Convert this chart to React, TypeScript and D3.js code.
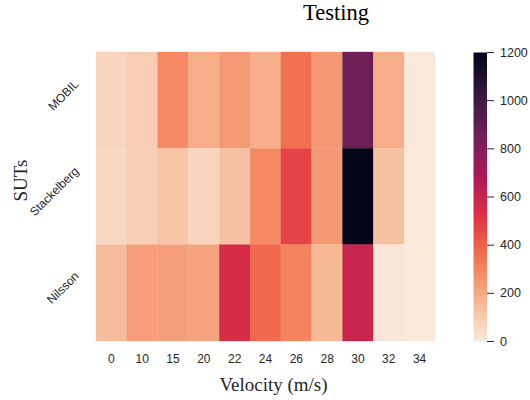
import React, { useEffect, useRef } from "react";
import * as d3 from "d3";

// Velocity bins (columns) and systems under test (rows)
const velocities = ["0", "10", "15", "20", "22", "24", "26", "28", "30", "32", "34"];
const suts = ["MOBIL", "Stackelberg", "Nilsson"];

// Cell values per SUT, one entry per velocity bin
const mobilValues = [70, 93, 290, 188, 243, 185, 358, 252, 865, 188, 5];
const stackelbergValues = [59, 87, 121, 70, 133, 290, 473, 245, 1200, 135, 5];
const nilssonValues = [146, 232, 230, 218, 550, 376, 304, 155, 593, 15, 8];

const colorbarTicks = [0, 200, 400, 600, 800, 1000, 1200];

// "rocket" colour map stops (dark to light); reversed for the value scale
const rocketStops = ["#03051a", "#35193e", "#701f57", "#ad1759", "#e13342", "#f37651", "#f6b48f", "#faebdd"];

const W = 530;
const H = 400;

export default function App() {
  const ref = useRef<SVGSVGElement | null>(null);

  useEffect(() => {
    const svg = d3.select(ref.current);
    svg.selectAll("*").remove();

    const rows = [mobilValues, stackelbergValues, nilssonValues];
    const plot = { left: 96, right: 435, top: 52, bottom: 341 };

    const x = d3.scaleBand<string>().domain(velocities).range([plot.left, plot.right]).padding(0);
    const y = d3.scaleBand<string>().domain(suts).range([plot.top, plot.bottom]).padding(0);

    const vmax = 1200;
    const stopsR = rocketStops.slice().reverse();
    const color = d3
      .scaleLinear<string>()
      .domain(stopsR.map((_, i) => (i / (stopsR.length - 1)) * vmax))
      .range(stopsR)
      .interpolate(d3.interpolateRgb)
      .clamp(true);

    // heatmap cells
    const cells = svg.append("g");
    suts.forEach((s, ri) => {
      velocities.forEach((v, ci) => {
        const val = rows[ri][ci];
        cells
          .append("rect")
          .attr("x", x(v)!)
          .attr("y", y(s)!)
          .attr("width", x.bandwidth())
          .attr("height", y.bandwidth())
          .attr("fill", color(val))
          .attr("stroke", color(val))
          .attr("stroke-width", 0.3);
      });
    });

    const tickFont = "'Liberation Sans', Arial, sans-serif";
    const serif = "'Liberation Serif', 'Times New Roman', serif";

    // x tick labels
    svg
      .append("g")
      .selectAll("text")
      .data(velocities)
      .join("text")
      .attr("x", (d) => x(d)! + x.bandwidth() / 2)
      .attr("y", plot.bottom + 22)
      .attr("text-anchor", "middle")
      .attr("font-family", tickFont)
      .attr("font-size", 12)
      .attr("fill", "#262626")
      .text((d) => d);

    // y tick labels, rotated 45 degrees, right-aligned next to each row
    const yLabels = svg.append("g");
    suts.forEach((s) => {
      const cy = y(s)! + y.bandwidth() / 2 - 5;
      const t = yLabels
        .append("text")
        .attr("text-anchor", "middle")
        .attr("dominant-baseline", "central")
        .attr("font-family", tickFont)
        .attr("font-size", 12)
        .attr("fill", "#262626")
        .text(s);
      const len = (t.node() as SVGTextElement).getComputedTextLength();
      const halfW = (len * Math.SQRT1_2) / 2 + (12 * Math.SQRT1_2) / 2;
      const cx = plot.left - 15 - halfW;
      t.attr("transform", `translate(${cx},${cy}) rotate(-45)`);
    });

    // axis titles
    svg
      .append("text")
      .attr("x", (plot.left + plot.right) / 2 + 8)
      .attr("y", 391)
      .attr("text-anchor", "middle")
      .attr("font-family", serif)
      .attr("font-size", 19)
      .attr("fill", "#262626")
      .text("Velocity (m/s)");

    svg
      .append("text")
      .attr("transform", `translate(27,${(plot.top + plot.bottom) / 2 - 16}) rotate(-90)`)
      .attr("text-anchor", "middle")
      .attr("font-family", serif)
      .attr("font-size", 19)
      .attr("fill", "#262626")
      .text("SUTs");

    svg
      .append("text")
      .attr("x", 336)
      .attr("y", 20)
      .attr("text-anchor", "middle")
      .attr("font-family", serif)
      .attr("font-size", 22.5)
      .attr("fill", "#000")
      .text("Testing");

    // colour bar
    const cb = { x: 473.5, w: 13.5, top: 52.5, bottom: 341.5 };
    const cy = d3.scaleLinear().domain([0, vmax]).range([cb.bottom, cb.top]);
    const defs = svg.append("defs");
    const grad = defs
      .append("linearGradient")
      .attr("id", "cbar")
      .attr("x1", 0)
      .attr("y1", 1)
      .attr("x2", 0)
      .attr("y2", 0);
    d3.range(0, 1.0001, 0.02).forEach((f) => {
      grad.append("stop").attr("offset", f).attr("stop-color", color(f * vmax));
    });
    svg
      .append("rect")
      .attr("x", cb.x)
      .attr("y", cb.top)
      .attr("width", cb.w)
      .attr("height", cb.bottom - cb.top)
      .attr("fill", "url(#cbar)");

    const cbAxis = svg.append("g");
    colorbarTicks.forEach((t) => {
      cbAxis
        .append("line")
        .attr("x1", cb.x + cb.w)
        .attr("x2", cb.x + cb.w + 7)
        .attr("y1", cy(t))
        .attr("y2", cy(t))
        .attr("stroke", "#262626")
        .attr("stroke-width", 1);
      cbAxis
        .append("text")
        .attr("x", cb.x + cb.w + 13)
        .attr("y", cy(t))
        .attr("dominant-baseline", "central")
        .attr("font-family", tickFont)
        .attr("font-size", 12.5)
        .attr("fill", "#262626")
        .text(String(t));
    });
  }, []);

  return <svg ref={ref} width={W} height={H} style={{ display: "block", position: "absolute", left: 0, top: 0 }} />;
}
